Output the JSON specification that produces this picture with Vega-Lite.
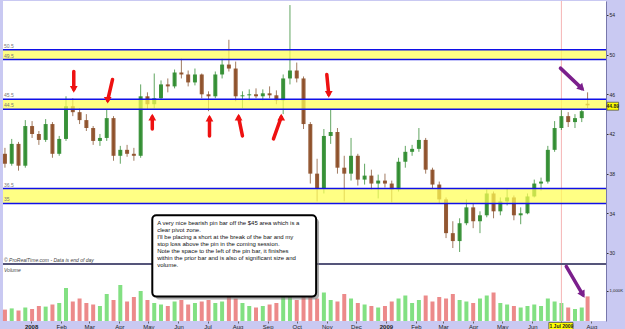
{
"$schema": "https://vega.github.io/schema/vega-lite/v6.json",
"width": 603, "height": 320,
"padding": {"left": 2, "top": 0, "right": 0, "bottom": 0},
"background": "#c9c9f2",
"view": {"fill": "white", "stroke": null},
"config": {"font": "Liberation Sans", "axis": {"grid": false, "title": null}, "scale": {"continuousPadding": 0}},
"datasets": {
"c": [
{"d":"2007-12-05","o":40.0,"h":40.6,"l":38.6,"c":39.0,"v":380},
{"d":"2007-12-12","o":39.0,"h":41.5,"l":38.8,"c":41.0,"v":420},
{"d":"2007-12-19","o":41.0,"h":41.2,"l":38.3,"c":38.8,"v":350},
{"d":"2007-12-26","o":38.8,"h":43.4,"l":38.6,"c":42.8,"v":450},
{"d":"2008-01-02","o":42.8,"h":43.3,"l":41.6,"c":42.0,"v":400},
{"d":"2008-01-09","o":42.0,"h":42.3,"l":40.9,"c":41.4,"v":500},
{"d":"2008-01-16","o":41.4,"h":43.5,"l":41.2,"c":43.0,"v":480},
{"d":"2008-01-23","o":43.0,"h":43.2,"l":39.6,"c":40.0,"v":550},
{"d":"2008-01-30","o":40.0,"h":41.8,"l":39.8,"c":41.5,"v":600},
{"d":"2008-02-06","o":41.5,"h":45.8,"l":41.3,"c":44.8,"v":1100},
{"d":"2008-02-13","o":44.8,"h":45.6,"l":43.8,"c":44.2,"v":650},
{"d":"2008-02-20","o":44.2,"h":44.6,"l":43.0,"c":43.4,"v":750},
{"d":"2008-02-27","o":43.4,"h":44.0,"l":42.3,"c":42.6,"v":600},
{"d":"2008-03-05","o":42.6,"h":42.8,"l":40.9,"c":41.3,"v":550},
{"d":"2008-03-12","o":41.3,"h":42.0,"l":40.8,"c":41.6,"v":500},
{"d":"2008-03-19","o":41.6,"h":44.5,"l":41.3,"c":43.6,"v":900},
{"d":"2008-03-26","o":43.6,"h":43.8,"l":39.3,"c":39.8,"v":700},
{"d":"2008-04-02","o":39.8,"h":40.8,"l":39.0,"c":40.4,"v":1200},
{"d":"2008-04-09","o":40.4,"h":40.9,"l":39.7,"c":40.0,"v":650},
{"d":"2008-04-16","o":40.0,"h":40.6,"l":39.3,"c":39.8,"v":800},
{"d":"2008-04-23","o":39.8,"h":47.0,"l":39.6,"c":45.8,"v":1000},
{"d":"2008-04-30","o":45.8,"h":46.2,"l":44.5,"c":45.0,"v":700},
{"d":"2008-05-07","o":45.0,"h":48.1,"l":44.6,"c":45.6,"v":600},
{"d":"2008-05-14","o":45.6,"h":47.4,"l":45.5,"c":47.0,"v":550},
{"d":"2008-05-21","o":47.0,"h":47.6,"l":46.2,"c":46.8,"v":500},
{"d":"2008-05-28","o":46.8,"h":48.5,"l":46.6,"c":48.2,"v":650},
{"d":"2008-06-04","o":48.2,"h":49.6,"l":47.6,"c":48.0,"v":700},
{"d":"2008-06-11","o":48.0,"h":48.4,"l":46.8,"c":47.2,"v":550},
{"d":"2008-06-18","o":47.2,"h":48.6,"l":46.9,"c":48.0,"v":600},
{"d":"2008-06-25","o":48.0,"h":48.1,"l":45.6,"c":46.0,"v":650},
{"d":"2008-07-02","o":46.0,"h":46.3,"l":44.3,"c":45.8,"v":700},
{"d":"2008-07-09","o":45.8,"h":48.3,"l":45.6,"c":48.0,"v":600},
{"d":"2008-07-16","o":48.0,"h":49.6,"l":47.6,"c":49.0,"v":650},
{"d":"2008-07-23","o":49.0,"h":51.5,"l":48.3,"c":48.6,"v":800},
{"d":"2008-07-30","o":48.6,"h":49.3,"l":45.3,"c":45.8,"v":750},
{"d":"2008-08-06","o":45.8,"h":46.3,"l":44.6,"c":45.9,"v":600},
{"d":"2008-08-13","o":45.9,"h":46.5,"l":45.4,"c":46.0,"v":500},
{"d":"2008-08-20","o":46.0,"h":46.6,"l":45.6,"c":45.8,"v":450},
{"d":"2008-08-27","o":45.8,"h":46.5,"l":45.4,"c":46.1,"v":500},
{"d":"2008-09-03","o":46.1,"h":46.8,"l":45.6,"c":45.9,"v":550},
{"d":"2008-09-10","o":45.9,"h":46.4,"l":45.0,"c":45.4,"v":600},
{"d":"2008-09-17","o":45.4,"h":48.0,"l":44.0,"c":47.6,"v":800},
{"d":"2008-09-24","o":47.6,"h":55.0,"l":47.0,"c":48.4,"v":900},
{"d":"2008-10-01","o":48.4,"h":49.2,"l":47.2,"c":47.6,"v":700},
{"d":"2008-10-08","o":47.6,"h":47.8,"l":42.5,"c":43.0,"v":850},
{"d":"2008-10-15","o":43.0,"h":43.2,"l":37.0,"c":38.0,"v":900},
{"d":"2008-10-22","o":38.0,"h":39.5,"l":35.2,"c":36.5,"v":750},
{"d":"2008-10-29","o":36.5,"h":42.5,"l":36.0,"c":41.8,"v":950},
{"d":"2008-11-05","o":41.8,"h":44.5,"l":41.0,"c":42.2,"v":700},
{"d":"2008-11-12","o":42.2,"h":42.6,"l":38.0,"c":38.6,"v":650},
{"d":"2008-11-19","o":38.6,"h":39.8,"l":35.2,"c":38.0,"v":900},
{"d":"2008-11-26","o":38.0,"h":41.6,"l":37.3,"c":39.8,"v":750},
{"d":"2008-12-03","o":39.8,"h":40.0,"l":36.8,"c":37.4,"v":600},
{"d":"2008-12-10","o":37.4,"h":39.0,"l":36.9,"c":37.8,"v":550},
{"d":"2008-12-17","o":37.8,"h":38.4,"l":36.4,"c":37.0,"v":500},
{"d":"2008-12-24","o":37.0,"h":37.9,"l":35.5,"c":37.3,"v":450},
{"d":"2008-12-31","o":37.3,"h":38.0,"l":36.6,"c":37.0,"v":500},
{"d":"2009-01-07","o":37.0,"h":37.3,"l":35.1,"c":36.4,"v":650},
{"d":"2009-01-14","o":36.4,"h":39.6,"l":36.2,"c":39.2,"v":750},
{"d":"2009-01-21","o":39.2,"h":40.8,"l":38.6,"c":40.2,"v":850},
{"d":"2009-01-28","o":40.2,"h":40.9,"l":39.8,"c":40.5,"v":600},
{"d":"2009-02-04","o":40.5,"h":42.6,"l":40.2,"c":41.4,"v":700},
{"d":"2009-02-11","o":41.4,"h":41.6,"l":38.0,"c":38.4,"v":850},
{"d":"2009-02-18","o":38.4,"h":38.6,"l":36.5,"c":36.9,"v":650},
{"d":"2009-02-25","o":36.9,"h":37.2,"l":35.0,"c":35.4,"v":800},
{"d":"2009-03-04","o":35.4,"h":35.6,"l":31.5,"c":32.0,"v":750},
{"d":"2009-03-11","o":32.0,"h":33.2,"l":30.5,"c":31.2,"v":900},
{"d":"2009-03-18","o":31.2,"h":33.5,"l":30.1,"c":33.0,"v":700},
{"d":"2009-03-25","o":33.0,"h":35.4,"l":32.8,"c":34.6,"v":650},
{"d":"2009-04-01","o":34.6,"h":35.0,"l":32.5,"c":33.2,"v":600},
{"d":"2009-04-08","o":33.2,"h":34.2,"l":32.0,"c":33.8,"v":750},
{"d":"2009-04-15","o":33.8,"h":36.4,"l":33.6,"c":36.0,"v":850},
{"d":"2009-04-22","o":36.0,"h":36.2,"l":33.5,"c":34.2,"v":950},
{"d":"2009-04-29","o":34.2,"h":35.6,"l":33.8,"c":35.2,"v":600},
{"d":"2009-05-06","o":35.2,"h":36.5,"l":34.8,"c":35.6,"v":550},
{"d":"2009-05-13","o":35.6,"h":35.8,"l":33.3,"c":33.8,"v":500},
{"d":"2009-05-20","o":33.8,"h":34.6,"l":32.9,"c":34.0,"v":450},
{"d":"2009-05-27","o":34.0,"h":36.0,"l":33.9,"c":35.7,"v":500},
{"d":"2009-06-03","o":35.7,"h":37.4,"l":35.6,"c":37.0,"v":550},
{"d":"2009-06-10","o":37.0,"h":37.6,"l":36.3,"c":37.2,"v":500},
{"d":"2009-06-17","o":37.2,"h":40.8,"l":37.0,"c":40.4,"v":750},
{"d":"2009-06-24","o":40.4,"h":43.3,"l":40.2,"c":42.6,"v":650},
{"d":"2009-07-01","o":42.6,"h":44.4,"l":42.4,"c":43.8,"v":600},
{"d":"2009-07-08","o":43.8,"h":44.2,"l":42.7,"c":43.2,"v":450},
{"d":"2009-07-15","o":43.2,"h":44.0,"l":42.6,"c":43.6,"v":400},
{"d":"2009-07-22","o":43.6,"h":44.5,"l":43.2,"c":44.3,"v":450},
{"d":"2009-07-28","o":45.05,"h":46.2,"l":44.6,"c":44.89,"v":820}
],
"bands": [
{"hi":50.5,"lo":49.5},{"hi":45.5,"lo":44.5},{"hi":36.5,"lo":35.0}
],
"levels": [
{"v":50.5,"t":"50.5"},{"v":49.5,"t":"49.5"},{"v":45.5,"t":"45.5"},{"v":44.5,"t":"44.5"},{"v":36.5,"t":"36.5"},{"v":35.0,"t":"35"}
],
"arrows": [
{"d":"2008-02-14","d2":"2008-02-14","p1":48.3,"p2":46.5,"dir":"down","kind":"red"},
{"d":"2008-03-25","d2":"2008-03-20","p1":47.5,"p2":45.4,"dir":"down","kind":"red"},
{"d":"2008-11-01","d2":"2008-11-03","p1":48.0,"p2":46.0,"dir":"down","kind":"red"},
{"d":"2008-05-05","d2":"2008-05-05","p1":42.5,"p2":43.7,"dir":"up","kind":"red"},
{"d":"2008-07-03","d2":"2008-07-03","p1":41.8,"p2":43.6,"dir":"up","kind":"red"},
{"d":"2008-08-06","d2":"2008-08-02","p1":41.8,"p2":43.7,"dir":"up","kind":"red"},
{"d":"2008-09-07","d2":"2008-09-15","p1":41.5,"p2":43.7,"dir":"up","kind":"red"},
{"d":"2009-06-30","d2":"2009-07-22","p1":48.64,"p2":46.6,"dir":"dr1","kind":"purple"},
{"d":"2009-07-06","d2":"2009-07-23","p1":28.64,"p2":25.8,"dir":"dr2","kind":"purple"}
]
},
"resolve": {"scale": {"y": "independent"}},
"layer": [
{
"data": {"name": "c"},
"mark": {"type": "bar", "size": 4, "opacity": 0.6},
"encoding": {
"x": {"field": "d", "type": "temporal", "scale": {"type": "utc", "padding": 0, "nice": false, "domain": [{"year":2007,"month":12,"date":3,"utc":true},{"year":2009,"month":8,"date":16,"utc":true}]},
  "axis": {"title": null, "orient": "bottom", "tickCount": {"interval": "month", "step": 1}, "labelExpr": "utcmonth(datum.value)==0 ? utcFormat(datum.value,'%Y') : ((utcyear(datum.value)==2009 && utcmonth(datum.value)==6) ? '' : utcFormat(datum.value,'%b'))", "labelFontSize": 6, "labelColor": "#222", "labelFontWeight": {"condition": {"test": "utcmonth(datum.value)==0", "value": "bold"}, "value": "normal"}, "tickSize": 2, "tickColor": "#666", "labelPadding": 0, "domain": false, "grid": false, "labelFlush": false, "labelOverlap": false, "labelAlign": "center", "minExtent": 9, "maxExtent": 9}},
"y": {"field": "v", "type": "quantitative", "scale": {"domain": [0, 10667], "nice": false, "zero": true}, "axis": null},
"color": {"condition": {"test": "datum.c >= datum.o", "value": "#2ecc2e"}, "value": "#e03c3c"}
}
},
{
"layer": [
{
"data": {"values": [{"d": "2009-07-01"}]},
"mark": {"type": "rule", "color": "#f5b5b5", "strokeWidth": 1},
"encoding": {
"x": {"field": "d", "type": "temporal", "scale": {"type": "utc", "padding": 0, "nice": false, "domain": [{"year":2007,"month":12,"date":3,"utc":true},{"year":2009,"month":8,"date":16,"utc":true}]}}
}
},
{
"data": {"name": "c"},
"mark": {"type": "rule", "strokeWidth": 1, "opacity": 0.8},
"encoding": {
"x": {"field": "d", "type": "temporal", "scale": {"type": "utc", "padding": 0, "nice": false, "domain": [{"year":2007,"month":12,"date":3,"utc":true},{"year":2009,"month":8,"date":16,"utc":true}]}},
"y": {"field": "l", "type": "quantitative", "scale": {"domain": [23.14, 55.41], "nice": false, "zero": false},
  "axis": {"title": null, "orient": "right", "values": [26.17, 27.61, 30, 32, 34, 36, 38, 40, 42, 44, 46, 48, 50, 52, 54], "labelExpr": "datum.value < 27 ? '1,000K' : (datum.value < 28 ? '1,500K' : datum.label)", "labelFontSize": {"condition": {"test": "datum.value < 28", "value": 4.3}, "value": 5}, "labelColor": "#222", "tickSize": 2, "tickColor": "#333", "labelPadding": 1, "grid": false, "domain": true, "domainColor": "#7777aa", "minExtent": 20, "maxExtent": 20}},
"y2": {"field": "h"},
"color": {"condition": {"test": "datum.c >= datum.o", "value": "#3a8f3a"}, "value": "#8a5a3a"}
}
},
{
"data": {"name": "c"},
"mark": {"type": "bar", "size": 4, "opacity": 0.9},
"encoding": {
"x": {"field": "d", "type": "temporal", "scale": {"type": "utc", "padding": 0, "nice": false, "domain": [{"year":2007,"month":12,"date":3,"utc":true},{"year":2009,"month":8,"date":16,"utc":true}]}},
"y": {"field": "o", "type": "quantitative", "scale": {"domain": [23.14, 55.41], "nice": false, "zero": false}},
"y2": {"field": "c"},
"color": {"condition": {"test": "datum.c >= datum.o", "value": "#2a8a2a"}, "value": "#8b4a22"}
}
},
{
"data": {"name": "bands"},
"mark": {"type": "rect", "color": "#ffff55", "opacity": 0.72},
"encoding": {
"y": {"field": "hi", "type": "quantitative", "scale": {"domain": [23.14, 55.41], "nice": false, "zero": false}},
"y2": {"field": "lo"}
}
},
{
"data": {"name": "levels"},
"mark": {"type": "rule", "color": "#1010e8", "strokeWidth": 1.5},
"encoding": {
"y": {"field": "v", "type": "quantitative", "scale": {"domain": [23.14, 55.41], "nice": false, "zero": false}}
}
},
{
"data": {"name": "levels"},
"mark": {"type": "text", "fontSize": 5, "color": "#777777", "align": "left", "baseline": "bottom", "dy": -1},
"encoding": {
"x": {"datum": {"year":2007,"month":12,"date":4,"utc":true}, "type": "temporal", "scale": {"type": "utc", "padding": 0, "nice": false, "domain": [{"year":2007,"month":12,"date":3,"utc":true},{"year":2009,"month":8,"date":16,"utc":true}]}},
"y": {"field": "v", "type": "quantitative", "scale": {"domain": [23.14, 55.41], "nice": false, "zero": false}},
"text": {"field": "t"}
}
},
{
"data": {"values": [{"v": 28.89}]},
"mark": {"type": "rule", "color": "#55557a", "strokeWidth": 2},
"encoding": {
"y": {"field": "v", "type": "quantitative", "scale": {"domain": [23.14, 55.41], "nice": false, "zero": false}}
}
},
{
"data": {"values": [{"p": 29.25, "t": "© ProRealTime.com - Data is end of day"}, {"p": 28.3, "t": "Volume"}]},
"mark": {"type": "text", "fontSize": 5, "color": "#444444", "align": "left", "baseline": "middle", "fontStyle": "italic"},
"encoding": {
"x": {"datum": {"year":2007,"month":12,"date":4,"utc":true}, "type": "temporal", "scale": {"type": "utc", "padding": 0, "nice": false, "domain": [{"year":2007,"month":12,"date":3,"utc":true},{"year":2009,"month":8,"date":16,"utc":true}]}},
"y": {"field": "p", "type": "quantitative", "scale": {"domain": [23.14, 55.41], "nice": false, "zero": false}},
"text": {"field": "t"}
}
},
{
"data": {"name": "arrows"},
"mark": {"type": "rule", "strokeWidth": 3.5, "strokeCap": "round"},
"encoding": {
"x": {"field": "d", "type": "temporal", "scale": {"type": "utc", "padding": 0, "nice": false, "domain": [{"year":2007,"month":12,"date":3,"utc":true},{"year":2009,"month":8,"date":16,"utc":true}]}},
"x2": {"field": "d2"},
"y": {"field": "p1", "type": "quantitative", "scale": {"domain": [23.14, 55.41], "nice": false, "zero": false}},
"y2": {"field": "p2"},
"color": {"condition": {"test": "datum.kind == 'red'", "value": "#ee1111"}, "value": "#7b1f8c"}
}
},
{
"data": {"name": "arrows"},
"transform": [{"filter": "datum.dir == 'down'"}],
"mark": {"type": "point", "shape": "triangle-down", "filled": true, "size": 60, "color": "#ee1111", "opacity": 1},
"encoding": {
"x": {"field": "d2", "type": "temporal", "scale": {"type": "utc", "padding": 0, "nice": false, "domain": [{"year":2007,"month":12,"date":3,"utc":true},{"year":2009,"month":8,"date":16,"utc":true}]}},
"y": {"field": "p2", "type": "quantitative", "scale": {"domain": [23.14, 55.41], "nice": false, "zero": false}}
}
},
{
"data": {"name": "arrows"},
"transform": [{"filter": "datum.dir == 'up'"}],
"mark": {"type": "point", "shape": "triangle-up", "filled": true, "size": 60, "color": "#ee1111", "opacity": 1},
"encoding": {
"x": {"field": "d2", "type": "temporal", "scale": {"type": "utc", "padding": 0, "nice": false, "domain": [{"year":2007,"month":12,"date":3,"utc":true},{"year":2009,"month":8,"date":16,"utc":true}]}},
"y": {"field": "p2", "type": "quantitative", "scale": {"domain": [23.14, 55.41], "nice": false, "zero": false}}
}
},
{
"data": {"name": "arrows"},
"transform": [{"filter": "datum.dir == 'dr1'"}],
"mark": {"type": "point", "shape": "triangle-up", "filled": true, "size": 70, "color": "#7b1f8c", "opacity": 1, "angle": 135},
"encoding": {
"x": {"field": "d2", "type": "temporal", "scale": {"type": "utc", "padding": 0, "nice": false, "domain": [{"year":2007,"month":12,"date":3,"utc":true},{"year":2009,"month":8,"date":16,"utc":true}]}},
"y": {"field": "p2", "type": "quantitative", "scale": {"domain": [23.14, 55.41], "nice": false, "zero": false}}
}
},
{
"data": {"name": "arrows"},
"transform": [{"filter": "datum.dir == 'dr2'"}],
"mark": {"type": "point", "shape": "triangle-up", "filled": true, "size": 70, "color": "#7b1f8c", "opacity": 1, "angle": 150},
"encoding": {
"x": {"field": "d2", "type": "temporal", "scale": {"type": "utc", "padding": 0, "nice": false, "domain": [{"year":2007,"month":12,"date":3,"utc":true},{"year":2009,"month":8,"date":16,"utc":true}]}},
"y": {"field": "p2", "type": "quantitative", "scale": {"domain": [23.14, 55.41], "nice": false, "zero": false}}
}
},
{
"data": {"values": [{"d": "2008-05-08", "d2": "2008-10-24", "p1": 33.5, "p2": 25.3}]},
"mark": {"type": "rect", "color": "#777777", "opacity": 0.6, "cornerRadius": 4},
"encoding": {
"x": {"field": "d", "type": "temporal", "scale": {"type": "utc", "padding": 0, "nice": false, "domain": [{"year":2007,"month":12,"date":3,"utc":true},{"year":2009,"month":8,"date":16,"utc":true}]}},
"x2": {"field": "d2"},
"y": {"field": "p1", "type": "quantitative", "scale": {"domain": [23.14, 55.41], "nice": false, "zero": false}},
"y2": {"field": "p2"}
}
},
{
"data": {"values": [{"d": "2008-05-05", "d2": "2008-10-21", "p1": 33.8, "p2": 25.6}]},
"mark": {"type": "rect", "fill": "white", "stroke": "black", "strokeWidth": 2, "cornerRadius": 4},
"encoding": {
"x": {"field": "d", "type": "temporal", "scale": {"type": "utc", "padding": 0, "nice": false, "domain": [{"year":2007,"month":12,"date":3,"utc":true},{"year":2009,"month":8,"date":16,"utc":true}]}},
"x2": {"field": "d2"},
"y": {"field": "p1", "type": "quantitative", "scale": {"domain": [23.14, 55.41], "nice": false, "zero": false}},
"y2": {"field": "p2"}
}
},
{
"data": {"values": [{"d": "2008-05-10", "p": 33.3, "t": "A very nice bearish pin bar off the $45 area which is a\nclear pivot zone.\nI'll be placing a short at the break of the bar and my\nstop loss above the pin in the coming session.\n\nNote the space to the left of the pin bar, it finishes\nwithin the prior bar and is also of significant size and\nvolume."}]},
"mark": {"type": "text", "fontSize": 6, "lineHeight": 6.9, "lineBreak": "\n", "align": "left", "baseline": "top", "color": "#111111"},
"encoding": {
"x": {"field": "d", "type": "temporal", "scale": {"type": "utc", "padding": 0, "nice": false, "domain": [{"year":2007,"month":12,"date":3,"utc":true},{"year":2009,"month":8,"date":16,"utc":true}]}},
"y": {"field": "p", "type": "quantitative", "scale": {"domain": [23.14, 55.41], "nice": false, "zero": false}},
"text": {"field": "t"}
}
},
{
"data": {"values": [{"d": "2009-08-17", "d2": "2009-08-29", "p1": 45.2, "p2": 44.4}, {"d": "2009-06-18", "d2": "2009-07-13", "p1": 22.99, "p2": 22.2}]},
"mark": {"type": "rect", "fill": "#ffff00", "stroke": "#444444", "strokeWidth": 0.7},
"encoding": {
"x": {"field": "d", "type": "temporal", "scale": {"type": "utc", "padding": 0, "nice": false, "domain": [{"year":2007,"month":12,"date":3,"utc":true},{"year":2009,"month":8,"date":16,"utc":true}]}},
"x2": {"field": "d2"},
"y": {"field": "p1", "type": "quantitative", "scale": {"domain": [23.14, 55.41], "nice": false, "zero": false}},
"y2": {"field": "p2"}
}
},
{
"data": {"values": [{"d": "2009-08-23", "p": 44.8, "t": "44.89"}, {"d": "2009-07-01", "p": 22.6, "t": "1 Jul 2009"}]},
"mark": {"type": "text", "fontSize": 5, "fontWeight": "bold", "align": "center", "baseline": "middle", "color": "#222222"},
"encoding": {
"x": {"field": "d", "type": "temporal", "scale": {"type": "utc", "padding": 0, "nice": false, "domain": [{"year":2007,"month":12,"date":3,"utc":true},{"year":2009,"month":8,"date":16,"utc":true}]}},
"y": {"field": "p", "type": "quantitative", "scale": {"domain": [23.14, 55.41], "nice": false, "zero": false}},
"text": {"field": "t"}
}
}
]
}
]
}
